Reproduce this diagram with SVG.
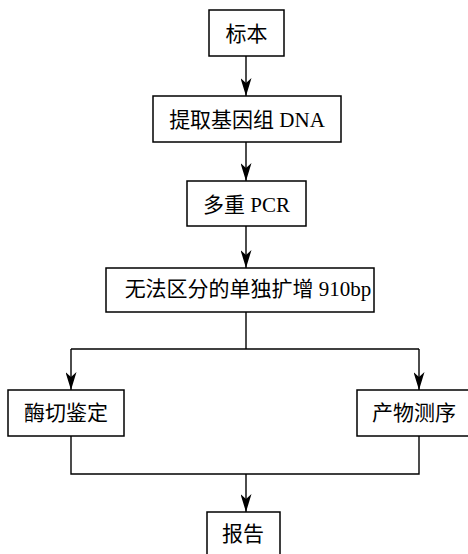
<svg xmlns="http://www.w3.org/2000/svg" width="468" height="554" viewBox="0 0 468 554">
<defs>
<marker id="arr" viewBox="0 0 18 11" refX="18" refY="5.5" markerWidth="18" markerHeight="11" markerUnits="userSpaceOnUse" orient="auto">
<path d="M0,0 L18,5.5 L0,11 L5,5.5 Z" fill="#000"/>
</marker>
</defs>
<style>
.box{fill:#fff;stroke:#000;stroke-width:1.5}
.t{font-family:"Liberation Serif","Noto Sans CJK SC",serif;font-size:21px;text-anchor:middle;fill:#000}
.c{fill:none;stroke:#000;stroke-width:1.4}
</style>
<rect width="468" height="554" fill="#fff"/>
<g id="connectors">
<path class="c" d="M246,56 V96" marker-end="url(#arr)"/>
<path class="c" d="M246,142 V181" marker-end="url(#arr)"/>
<path class="c" d="M246,226 V268" marker-end="url(#arr)"/>
<path class="c" d="M246,312 V349"/>
<path class="c" d="M71,349 H419"/>
<path class="c" d="M71,349 V390" marker-end="url(#arr)"/>
<path class="c" d="M419,349 V390" marker-end="url(#arr)"/>
<path class="c" d="M71,436 V474 H419 V436"/>
<path class="c" d="M246,474 V512" marker-end="url(#arr)"/>
</g>
<g id="n1"><rect class="box" x="209" y="10" width="75" height="46"/><text class="t" x="246.5" y="41">标本</text></g>
<g id="n2"><rect class="box" x="153" y="96" width="188" height="46"/><text class="t" x="247" y="127">提取基因组 DNA</text></g>
<g id="n3"><rect class="box" x="187" y="181" width="119" height="45"/><text class="t" x="246.5" y="212">多重 PCR</text></g>
<g id="n4"><rect class="box" x="106" y="268" width="268" height="44"/><text class="t" x="248" y="296">无法区分的单独扩增 910bp</text></g>
<g id="n5"><rect class="box" x="8" y="390" width="116" height="46"/><text class="t" x="66" y="420">酶切鉴定</text></g>
<g id="n6"><rect class="box" x="357" y="390" width="116" height="46"/><text class="t" x="414" y="420">产物测序</text></g>
<g id="n7"><rect class="box" x="207" y="512" width="73" height="46"/><text class="t" x="243" y="541">报告</text></g>
</svg>
